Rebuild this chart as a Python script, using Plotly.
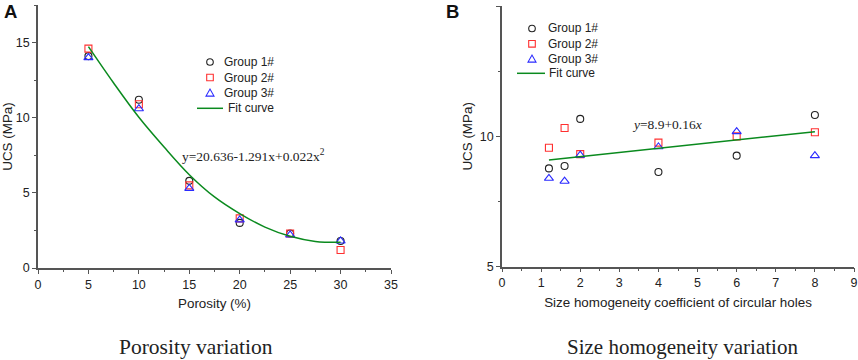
import plotly.graph_objects as go

# ---- Panel A data: porosity variation ----
porosity = [5, 10, 15, 20, 25, 30]
a_group1 = [14.1, 11.2, 5.8, 3.0, 2.3, 1.8]
a_group2 = [14.6, 10.9, 5.5, 3.3, 2.3, 1.2]
a_group3 = [14.0, 10.6, 5.3, 3.2, 2.2, 1.8]
a_fit_x = [5, 7.5, 10, 12.5, 15, 17.5, 20, 22.5, 25, 27.5, 30]
a_fit_y = [14.73, 12.31, 10.03, 8.05, 6.21, 4.73, 3.62, 2.72, 2.11, 1.77, 1.71]

# ---- Panel B data: size homogeneity variation ----
homog = [1.2, 1.6, 2, 4, 6, 8]
b_group1 = [8.77, 8.86, 10.67, 8.63, 9.26, 10.82]
b_group2 = [9.56, 10.32, 9.32, 9.76, 10.0, 10.16]
b_group3 = [8.39, 8.28, 9.28, 9.6, 10.18, 9.26]
b_fit_x = [1.2, 8]
b_fit_y = [9.09, 10.18]

names = ["Group 1#", "Group 2#", "Group 3#", "Fit curve"]
BLACK = "#222222"
RED = "#ff3030"
BLUE = "#2b2bff"
GREEN = "#0a8a1e"
AXIS = "#555555"
W, H = 858, 360

fig = go.Figure()

def add_panel(xv, g1, g2, g3, fx, fy, xa, ya, spline):
    fig.add_trace(go.Scatter(x=xv, y=g1, mode="markers", name=names[0], xaxis=xa, yaxis=ya,
                             marker=dict(symbol="circle-open", size=7, color=BLACK, line=dict(width=1.1))))
    fig.add_trace(go.Scatter(x=xv, y=g2, mode="markers", name=names[1], xaxis=xa, yaxis=ya,
                             marker=dict(symbol="square-open", size=7, color=RED, line=dict(width=1.1))))
    fig.add_trace(go.Scatter(x=xv, y=g3, mode="markers", name=names[2], xaxis=xa, yaxis=ya,
                             marker=dict(symbol="triangle-up-open", size=8, color=BLUE, line=dict(width=1.1))))
    fig.add_trace(go.Scatter(x=fx, y=fy, mode="lines", name=names[3], xaxis=xa, yaxis=ya,
                             line=dict(color=GREEN, width=1.5, shape="spline" if spline else "linear")))

add_panel(porosity, a_group1, a_group2, a_group3, a_fit_x, a_fit_y, "x", "y", True)
add_panel(homog, b_group1, b_group2, b_group3, b_fit_x, b_fit_y, "x2", "y2", False)

tickfont = dict(family="Liberation Sans, Arial", size=12.5, color="#222222")
titlefont = dict(family="Liberation Sans, Arial", size=13.4, color="#222222")

def axis_common(rng, dtick, minor_dtick, domain, anchor, title, standoff):
    return dict(range=rng, dtick=dtick, domain=domain, anchor=anchor, showline=True, linecolor=AXIS,
                linewidth=1.5, showgrid=False, zeroline=False, ticks="outside", ticklen=4, tickwidth=1.2,
                tickcolor=AXIS, tickfont=tickfont, automargin=False,
                minor=dict(dtick=minor_dtick, ticks="outside", ticklen=2.5, tickcolor=AXIS, tickwidth=1),
                title=dict(text=title, font=titlefont, standoff=standoff))

fig.update_layout(
    width=W, height=H, margin=dict(l=0, r=0, t=0, b=0, autoexpand=False),
    paper_bgcolor="white", plot_bgcolor="white", showlegend=False,
    xaxis=axis_common([0, 35], 5, 2.5, [38 / W, 391 / W], "y", "Porosity (%)", 8),
    yaxis=axis_common([0, 17.5], 5, 2.5, [1 - 268 / H, 1 - 5 / H], "x", "UCS (MPa)", 2),
    xaxis2=axis_common([0, 9], 1, 0.5, [502 / W, 854 / W], "y2",
                       "Size homogeneity coefficient of circular holes", 8),
    yaxis2=axis_common([5, 15], 5, 2.5, [1 - 266.7 / H, 1 - 6 / H], "x2", "UCS (MPa)", 4),
)

def px(x):
    return x / W

def py(y):
    return 1 - y / H

# manual legends (layout shapes + text)
def legend(sym_x, text_x, rows, line_x0, line_x1, fit_text_x):
    lf = dict(family="Liberation Sans, Arial", size=12, color="#222222")
    r = 3.3
    cy = rows[0]
    fig.add_shape(type="circle", xref="paper", yref="paper", x0=px(sym_x - r), x1=px(sym_x + r),
                  y0=py(cy + r), y1=py(cy - r), line=dict(color=BLACK, width=1.1))
    cy = rows[1]
    fig.add_shape(type="rect", xref="paper", yref="paper", x0=px(sym_x - r), x1=px(sym_x + r),
                  y0=py(cy + r), y1=py(cy - r), line=dict(color=RED, width=1.1))
    cy = rows[2]
    t = 4
    fig.add_shape(type="path", xref="paper", yref="paper",
                  path=f"M {px(sym_x - t)},{py(cy + 3.3)} L {px(sym_x + t)},{py(cy + 3.3)} L {px(sym_x)},{py(cy - 3.7)} Z",
                  line=dict(color=BLUE, width=1.1))
    fig.add_shape(type="line", xref="paper", yref="paper", x0=px(line_x0), x1=px(line_x1),
                  y0=py(rows[3]), y1=py(rows[3]), line=dict(color=GREEN, width=1.5))
    for i in range(3):
        fig.add_annotation(x=px(text_x), y=py(rows[i]), xref="paper", yref="paper", showarrow=False,
                           xanchor="left", yanchor="middle", text=names[i], font=lf)
    fig.add_annotation(x=px(fit_text_x), y=py(rows[3]), xref="paper", yref="paper", showarrow=False,
                       xanchor="left", yanchor="middle", text=names[3], font=lf)

legend(210, 222, [62, 77.5, 92.8, 108.3], 197, 223, 226)
legend(532, 546, [28.5, 43.8, 58.8, 73.3], 517, 545, 547)

serif = "Liberation Serif, Times New Roman"
def note(x, y, text, font):
    fig.add_annotation(x=px(x), y=py(y), xref="paper", yref="paper", showarrow=False,
                       xanchor="center", yanchor="middle", text=text, font=font)

note(253, 155, "y=20.636-1.291x+0.022x<sup>2</sup>", dict(family=serif, size=13.5, color="#222222"))
note(667, 124, "<i>y</i>=8.9+0.16<i>x</i>", dict(family=serif, size=13.5, color="#222222"))
note(10.5, 12, "<b>A</b>", dict(family="Liberation Sans, Arial", size=18.5, color="#111111"))
note(452.5, 12, "<b>B</b>", dict(family="Liberation Sans, Arial", size=18.5, color="#111111"))
note(196, 347, "Porosity variation", dict(family=serif, size=21.5, color="#222222"))
note(682, 347, "Size homogeneity variation", dict(family=serif, size=21, color="#222222"))

fig.write_html("out.html", config={"displayModeBar": False},
               post_script="document.body.style.margin='0';document.body.style.overflow='hidden';")
